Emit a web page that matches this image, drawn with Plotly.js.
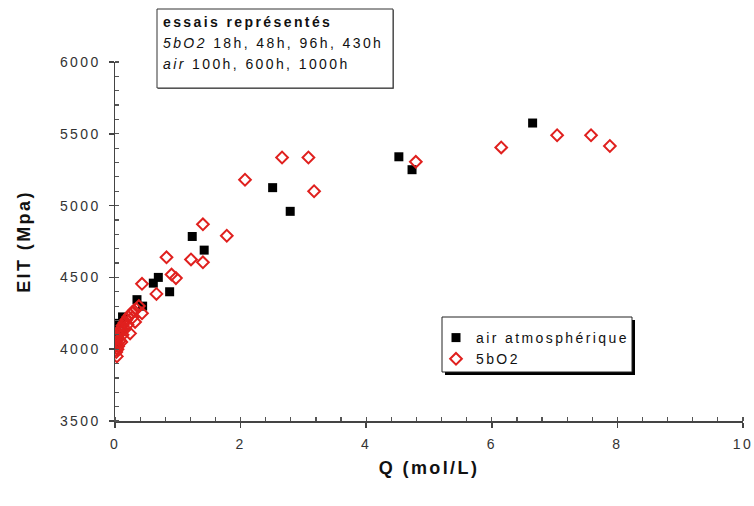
<!DOCTYPE html>
<html>
<head>
<meta charset="utf-8">
<script src="https://cdn.plot.ly/plotly-3.0.1.min.js"></script>
<style>
  html, body { margin: 0; padding: 0; background: #fff; }
  #chart { width: 754px; height: 506px; }
  /* wide tracking of the labels (also applies to Plotly's text measuring node) */
  svg text { letter-spacing: 2.4px; }
</style>
</head>
<body>
<div id="chart"></div>
<script>
// Air atmosphérique : Q (mol/L) and EIT (MPa)
const airQ   = [6.65, 4.52, 4.73, 2.51, 2.79, 1.42, 1.23, 0.69, 0.61, 0.87,
                0.35, 0.44, 0.12, 0.07, 0.03, 0.01, 0.00, 0.02, 0.00, 0.05];
const airEIT = [5575, 5340, 5250, 5125, 4960, 4690, 4785, 4500, 4460, 4400,
                4345, 4300, 4225, 4180, 4150, 4120, 4090, 4060, 4030, 4100];

// 5bO2
const o2Q   = [6.15, 7.04, 7.58, 7.88, 2.66, 3.08, 2.07, 3.17, 4.79, 1.40,
               1.78, 1.40, 0.82, 1.21, 0.90, 0.97, 0.66, 0.43, 0.43, 0.32,
               0.24, 0.03, 0.38, 0.34, 0.30, 0.27, 0.24, 0.21, 0.18, 0.15,
               0.12, 0.10, 0.08, 0.06, 0.04, 0.02, 0.01, 0.00, 0.05, 0.08,
               0.12, 0.16, 0.20, 0.28, 0.02, 0.04, 0.10];
const o2EIT = [5405, 5490, 5490, 5415, 5335, 5335, 5180, 5100, 5305, 4870,
               4790, 4605, 4640, 4625, 4520, 4495, 4385, 4455, 4250, 4190,
               4110, 3950, 4300, 4280, 4270, 4255, 4240, 4225, 4205, 4185,
               4165, 4145, 4125, 4100, 4080, 4050, 4020, 3990, 4020, 4060,
               4100, 4140, 4170, 4220, 3980, 4000, 4050];

const seriesNames = ['air atmosphérique', '5bO2'];
const boxLines = ['<b>essais représentés</b>',
                  '<i>5bO2</i> 18h, 48h, 96h, 430h',
                  '<i>air</i> 100h, 600h, 1000h'];

const FONT = 'Liberation Sans, Arial, sans-serif';

const traces = [
  {
    type: 'scatter', mode: 'markers', name: seriesNames[0],
    x: airQ, y: airEIT,
    marker: { symbol: 'square', size: 9, color: '#000' }
  },
  {
    type: 'scatter', mode: 'markers', name: seriesNames[1],
    x: o2Q, y: o2EIT,
    marker: { symbol: 'diamond-open', size: 9, color: '#e0201e', line: { width: 2, color: '#e0201e' } }
  }
];

// plot area: 115..743 px horizontally, 62..421 px vertically
const W = 628, H = 359, L = 115, T = 62;
const px = v => (v - L) / W;
const py = v => (T + H - v) / H;

const shapes = [
  // legend frame with drop shadow
  { type: 'rect', xref: 'paper', yref: 'paper', x0: px(445), x1: px(635), y0: py(375), y1: py(320),
    line: { width: 0 }, fillcolor: '#000', layer: 'above' },
  { type: 'rect', xref: 'paper', yref: 'paper', x0: px(442), x1: px(632), y0: py(372), y1: py(317),
    line: { width: 1, color: '#222' }, fillcolor: '#fff', layer: 'above' },
  // frame of the test list
  { type: 'rect', xref: 'paper', yref: 'paper', x0: px(158), x1: px(394), y0: py(89), y1: py(10),
    line: { width: 0 }, fillcolor: '#777', layer: 'above' },
  { type: 'rect', xref: 'paper', yref: 'paper', x0: px(157), x1: px(393), y0: py(88), y1: py(9),
    line: { width: 1, color: '#333' }, fillcolor: '#fff', layer: 'above' }
];

const annotations = boxLines.map((t, i) => ({
  xref: 'paper', yref: 'paper', x: px(161), y: py(22 + i * 21),
  xanchor: 'left', yanchor: 'middle', showarrow: false, align: 'left',
  text: t, font: { family: FONT, size: 14, color: '#111' }
}));

const layout = {
  width: 754, height: 506,
  margin: { l: L, r: 754 - L - W, t: T, b: 506 - T - H, pad: 0 },
  paper_bgcolor: '#fff', plot_bgcolor: '#fff',
  showlegend: true,
  legend: {
    x: px(436), y: py(322), xanchor: 'left', yanchor: 'top',
    bgcolor: 'rgba(0,0,0,0)', borderwidth: 0,
    font: { family: FONT, size: 14, color: '#111' },
    tracegroupgap: 0, itemwidth: 30
  },
  xaxis: {
    range: [0, 10], dtick: 2, tick0: 0,
    showgrid: false, zeroline: false,
    showline: true, linecolor: '#444', linewidth: 1.5,
    ticks: 'outside', ticklen: 5, tickwidth: 1.5, tickcolor: '#444',
    minor: { dtick: 0.4, ticks: 'inside', ticklen: 4, tickwidth: 1.2, tickcolor: '#555' },
    tickfont: { family: FONT, size: 14, color: '#333' },
    ticklabelstandoff: 5,
    title: { text: '<b>Q (mol/L)</b>', font: { family: FONT, size: 18, color: '#111' }, standoff: 10 },
    automargin: false
  },
  yaxis: {
    range: [3500, 6000], dtick: 500, tick0: 3500,
    showgrid: false, zeroline: false,
    showline: true, linecolor: '#444', linewidth: 1.5,
    ticks: 'outside', ticklen: 5, tickwidth: 1.5, tickcolor: '#444',
    minor: { dtick: 100, ticks: 'inside', ticklen: 4, tickwidth: 1.2, tickcolor: '#555' },
    tickfont: { family: FONT, size: 14, color: '#333' },
    ticklabelstandoff: 5,
    title: { text: '<b>EIT (Mpa)</b>', font: { family: FONT, size: 18, color: '#111' }, standoff: 24 },
    automargin: false
  },
  shapes: shapes,
  annotations: annotations
};

Plotly.newPlot('chart', traces, layout, { staticPlot: true, displayModeBar: false });
</script>
</body>
</html>
